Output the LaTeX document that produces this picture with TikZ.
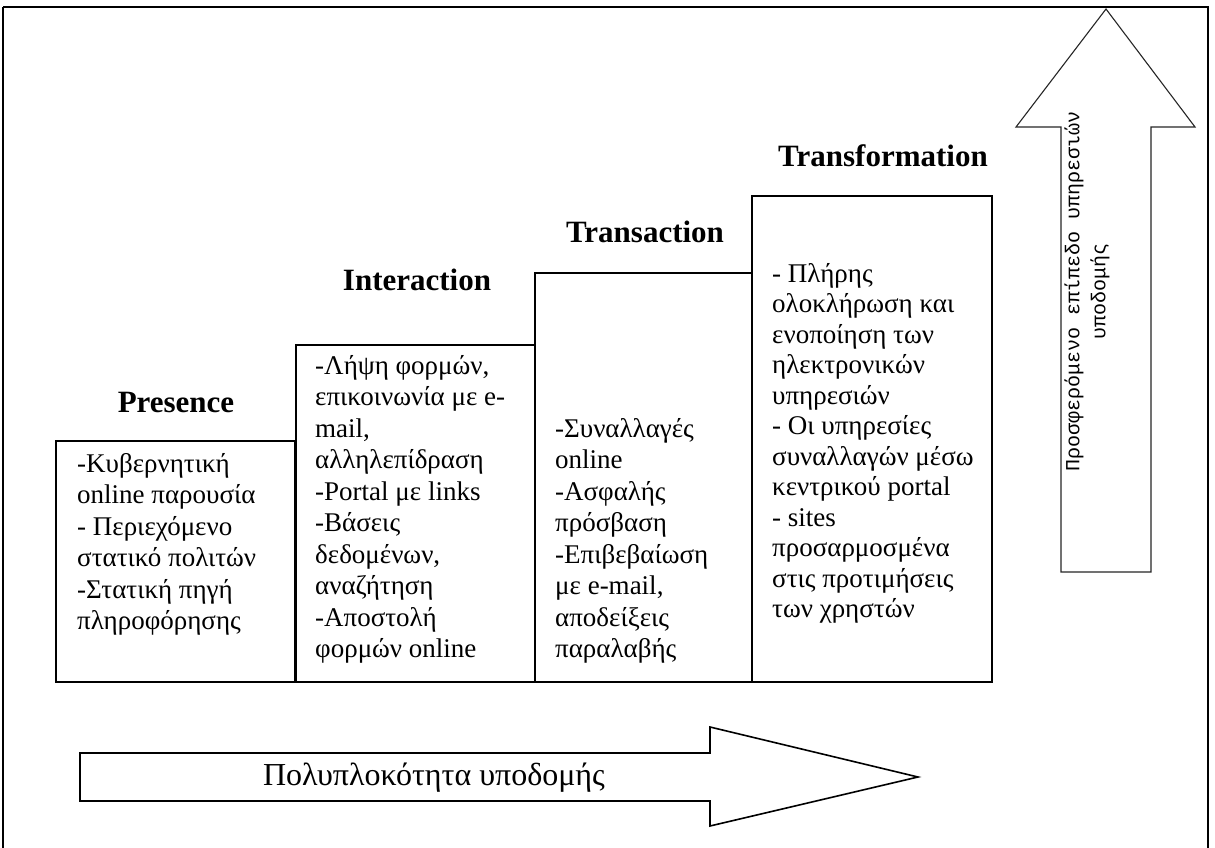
\documentclass[tikz,border=0pt]{standalone}
\usepackage{fontspec}
\setmainfont{Liberation Serif}
\newfontfamily\labelfont{Liberation Mono}
\begin{document}
\begin{tikzpicture}[x=1pt,y=-1pt,
  stagebox/.style={draw=black, line width=1.6pt, inner sep=0pt, outer sep=0pt},
  bodytext/.style={anchor=north west, align=left, inner sep=0pt,
    font=\fontsize{27}{31.5}\selectfont},
  stagetitle/.style={inner sep=0pt, font=\fontsize{31}{34}\selectfont\bfseries},
  bigarrow/.style={draw=black!85, line width=1.1pt, fill=white, line join=miter},
]
\useasboundingbox (0,0) rectangle (1215,848);
% outer frame
\draw[line width=2pt] (3,7) -- (1208,7) -- (1208,860) (3,7) -- (3,860);

% the four stages as boxes
\node[stagebox, anchor=south west, minimum width=239pt, minimum height=241pt] (presbox) at (56,682) {};
\node[stagebox, anchor=south west, minimum width=239pt, minimum height=337pt] (interbox) at (296,682) {};
\node[stagebox, anchor=south west, minimum width=217pt, minimum height=409pt] (transbox) at (535,682) {};
\node[stagebox, anchor=south west, minimum width=240pt, minimum height=486pt] (formbox) at (752,682) {};

% stage titles
\node[stagetitle] (prestitle) at (176,402) {Presence};
\node[stagetitle] (intertitle) at (417,280) {Interaction};
\node[stagetitle] (transtitle) at (645,232) {Transaction};
\node[stagetitle] (formtitle) at (883,156) {Transformation};

% stage contents
\node[bodytext] (prestext) at (77,453) {-Κυβερνητική\\online παρουσία\\- Περιεχόμενο\\στατικό πολιτών\\-Στατική πηγή\\πληροφόρησης};
\node[bodytext] (intertext) at (315,355) {-Λήψη φορμών,\\επικοινωνία με e-\\mail,\\αλληλεπίδραση\\-Portal με links\\-Βάσεις\\δεδομένων,\\αναζήτηση\\-Αποστολή\\φορμών online};
\node[bodytext] (transtext) at (555,418) {-Συναλλαγές\\online\\-Ασφαλής\\πρόσβαση\\-Επιβεβαίωση\\με e-mail,\\αποδείξεις\\παραλαβής};
\node[bodytext, font=\fontsize{27}{30.5}\selectfont] (formtext) at (772,263)
  {- Πλήρης\\ολοκλήρωση και\\ενοποίηση των\\ηλεκτρονικών\\υπηρεσιών\\- Οι υπηρεσίες\\συναλλαγών μέσω\\κεντρικού portal\\- sites\\προσαρμοσμένα\\στις προτιμήσεις\\των χρηστών};

% vertical block arrow
\draw[bigarrow] (1061,572) -- (1061,127) -- (1016,127) -- (1106,9) -- (1195,127)
  -- (1151,127) -- (1151,572) -- cycle;
\node[rotate=90, align=center, inner sep=0pt,
  font=\labelfont\fontsize{20}{26}\selectfont] (servicelevel) at (1087,291)
  {Προσφερόμενο επίπεδο υπηρεσιών\\υποδομής};

% horizontal block arrow
\draw[line width=1.6pt, fill=white, line join=miter] (80,753) -- (710,753) -- (710,727)
  -- (918,777) -- (710,826) -- (710,801) -- (80,801) -- cycle;
\node[inner sep=0pt, font=\fontsize{32}{35}\selectfont] (complexity) at (434,778)
  {Πολυπλοκότητα υποδομής};
\end{tikzpicture}
\end{document}
